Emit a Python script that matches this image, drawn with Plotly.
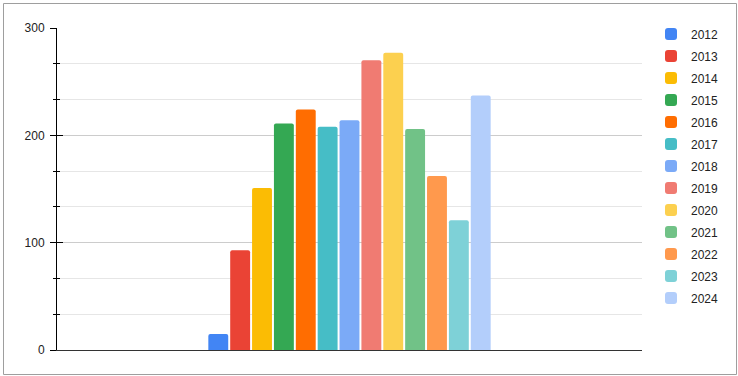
import plotly.graph_objects as go

years = ["2012", "2013", "2014", "2015", "2016", "2017", "2018",
         "2019", "2020", "2021", "2022", "2023", "2024"]
values = [15, 93, 151, 211, 224, 208, 214, 270, 277, 206, 162, 121, 237]
colors = ["#4285F4", "#EA4335", "#FBBC04", "#34A853", "#FF6D01", "#46BDC6",
          "#7BAAF7", "#F07B72", "#FCD04F", "#71C287", "#FF994D", "#7ED1D7",
          "#B3CEFB"]
category = [""]

W, H = 738, 376
ML, MR, MT, MB = 57, 96, 28, 26
PW, PH = W - ML - MR, H - MT - MB

fig = go.Figure()
for yr, v, c in zip(years, values, colors):
    fig.add_trace(go.Bar(x=category, y=[v], name=yr, marker_color=c,
                         marker_line_width=0, legendgroup=yr,
                         hoverinfo="name+y"))
# helper trace for the inside-tick overlay axis
fig.add_trace(go.Scatter(x=category, y=[None], yaxis="y2", showlegend=False,
                         hoverinfo="skip", mode="markers"))

def px_x(p):
    return (p - ML) / PW

def px_y(p):
    return (H - MB - p) / PH

fig.update_layout(
    width=W, height=H,
    margin=dict(l=ML, r=MR, t=MT, b=MB, pad=0),
    paper_bgcolor="white", plot_bgcolor="white",
    barmode="group", bargap=0.514, bargroupgap=0.09,
    barcornerradius=2,
    font=dict(family="Arial, Liberation Sans, sans-serif", size=12, color="#222222"),
    showlegend=True,
    legend=dict(x=px_x(651), xanchor="left", y=px_y(19.5), yanchor="top",
                font=dict(size=12, color="#222222"), tracegroupgap=3,
                traceorder="grouped", itemwidth=30, bgcolor="rgba(0,0,0,0)",
                maxheight=360),
    xaxis=dict(type="category", range=[-0.5, 0.5], showticklabels=False,
               showgrid=False, zeroline=False, showline=True,
               linecolor="#333333", linewidth=1, ticks=""),
    yaxis=dict(range=[0, 300], tickvals=[0, 100, 200, 300], showgrid=True,
               gridcolor="#cccccc", gridwidth=1, zeroline=False,
               showline=True, linecolor="#000000", linewidth=1,
               ticks="outside", ticklen=6, tickcolor="#000000",
               ticklabelstandoff=3,
               tickfont=dict(size=12, color="#222222"),
               minor=dict(dtick=100 / 3, tick0=0, showgrid=True,
                          gridcolor="#e6e6e6", ticks="outside", ticklen=3,
                          tickcolor="#000000")),
    yaxis2=dict(range=[0, 300], overlaying="y", side="left", anchor="x",
                tickvals=[0, 100, 200, 300], showticklabels=False,
                showgrid=False, zeroline=False, showline=False,
                ticks="inside", ticklen=6, tickcolor="#000000",
                minor=dict(dtick=100 / 3, tick0=0, showgrid=False,
                           ticks="inside", ticklen=3, tickcolor="#000000")),
    shapes=[dict(type="rect", xref="paper", yref="paper",
                 x0=px_x(3.5), x1=px_x(736.5), y0=px_y(374.5), y1=px_y(3.5),
                 line=dict(color="#9e9e9e", width=1), layer="below")],
)

fig.write_html("out.html")
